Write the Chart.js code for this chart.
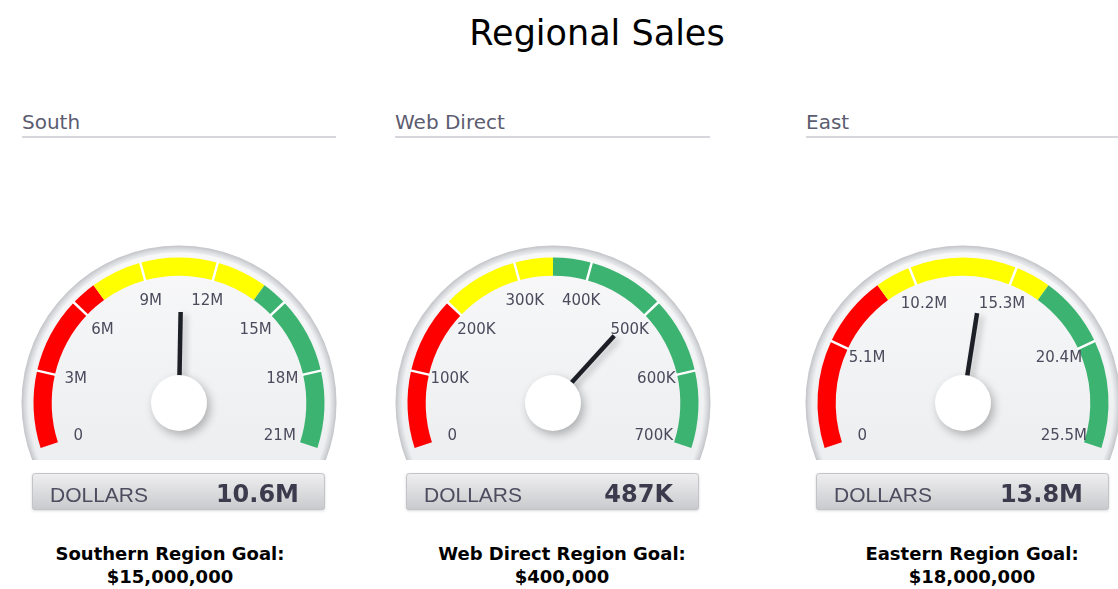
<!DOCTYPE html>
<html>
<head>
<meta charset="utf-8">
<title>Regional Sales</title>
<script src="https://cdn.jsdelivr.net/npm/chart.js@4.4.1/dist/chart.umd.min.js"></script>
<style>
    body { margin: 0; background: #fff; width: 1118px; height: 589px; position: relative; overflow: hidden; font-family: "DejaVu Sans", sans-serif; }
    .title { position: absolute; left: 0; width: 1194px; top: 16px; text-align: center; font-size: 35px; line-height: 35px; color: #000; }
    .head { position: absolute; top: 112px; font-size: 20px; line-height: 20px; color: #5c5c70; }
    .rule { position: absolute; top: 136px; height: 2px; background: #d6d7dd; }
    .goal { position: absolute; top: 542px; width: 320px; text-align: center; font-size: 18px; line-height: 23px; font-weight: bold; color: #000; }
    canvas { position: absolute; top: 230px; }
</style>
</head>
<body>
<div class="title">Regional Sales</div>
<div id="panels"></div>

<script>
// ===== DADOS =====
const regions      = ['South', 'Web Direct', 'East'];
const maxValues    = [21000000, 700000, 25500000];
const tickValues   = [
    [0, 3000000, 6000000, 9000000, 12000000, 15000000, 18000000, 21000000],
    [0, 100000, 200000, 300000, 400000, 500000, 600000, 700000],
    [0, 5100000, 10200000, 15300000, 20400000, 25500000]
];
const tickLabels   = [
    ['0', '3M', '6M', '9M', '12M', '15M', '18M', '21M'],
    ['0', '100K', '200K', '300K', '400K', '500K', '600K', '700K'],
    ['0', '5.1M', '10.2M', '15.3M', '20.4M', '25.5M']
];
const redLimits    = [7000000, 200000, 8500000];
const yellowLimits = [14000000, 350000, 17000000];
const actuals      = [10600000, 487000, 13800000];
const actualLabels = ['10.6M', '487K', '13.8M'];
const unitLabel    = 'DOLLARS';
const goalTitles   = ['Southern Region Goal:', 'Web Direct Region Goal:', 'Eastern Region Goal:'];
const goalAmounts  = ['$15,000,000', '$400,000', '$18,000,000'];

// ===== LAYOUT =====
const gaugeCenterX = [179, 553.3, 963.3];
const headerLeft   = [22, 395, 806];
const headerWidth  = [314, 315, 320];
const goalCenterX  = [170, 562, 972];
const CANVAS_W = 340, CANVAS_H = 300;

const RED = '#ff0000', YELLOW = '#ffff00', GREEN = '#3cb371';

// Faixas coloridas: cortes nos ticks e nos limites de vermelho/amarelo
function buildSegments(i) {
    const edges = [...new Set([...tickValues[i], redLimits[i], yellowLimits[i]])].sort((a, b) => a - b);
    const values = [], colors = [];
    for (let k = 1; k < edges.length; k++) {
        values.push(edges[k] - edges[k - 1]);
        const mid = (edges[k] + edges[k - 1]) / 2;
        colors.push(mid < redLimits[i] ? RED : mid < yellowLimits[i] ? YELLOW : GREEN);
    }
    return { values, colors };
}

function arcGeometry(chart) {
    const arcs = chart.getDatasetMeta(0).data;
    const first = arcs[0], last = arcs[arcs.length - 1];
    return {
        x: first.x, y: first.y,
        r: first.outerRadius, ir: first.innerRadius,
        start: first.startAngle, end: last.endAngle
    };
}

// ===== PLUGIN DO MOSTRADOR =====
const gaugePlugin = {
    id: 'gauge',
    beforeDatasetsDraw(chart) {
        const g = arcGeometry(chart);
        const ctx = chart.ctx;
        ctx.save();
        ctx.beginPath();
        ctx.rect(g.x - 200, g.y - 200, 400, 200 + 57);
        ctx.clip();
        const rim = ctx.createRadialGradient(g.x, g.y, g.r + 5, g.x, g.y, g.r + 12);
        rim.addColorStop(0, '#eeeff1');
        rim.addColorStop(0.5, '#dadbde');
        rim.addColorStop(1, '#c2c3c7');
        ctx.fillStyle = rim;
        ctx.beginPath();
        ctx.arc(g.x, g.y, g.r + 12, 0, Math.PI * 2);
        ctx.fill();
        const face = ctx.createLinearGradient(0, g.y - g.r, 0, g.y + 57);
        face.addColorStop(0, '#f8f8f9');
        face.addColorStop(1, '#eceef0');
        ctx.fillStyle = face;
        ctx.beginPath();
        ctx.arc(g.x, g.y, g.r + 5, 0, Math.PI * 2);
        ctx.fill();
        ctx.restore();
    },
    afterDatasetsDraw(chart, args, opts) {
        const g = arcGeometry(chart);
        const ctx = chart.ctx;
        const i = opts.index;
        const angleOf = v => g.start + (v / maxValues[i]) * (g.end - g.start);

        // separadores brancos nos ticks internos
        ctx.save();
        ctx.strokeStyle = '#ffffff';
        ctx.lineWidth = 2.5;
        tickValues[i].slice(1, -1).forEach(v => {
            const a = angleOf(v);
            ctx.beginPath();
            ctx.moveTo(g.x + Math.cos(a) * (g.ir - 1), g.y + Math.sin(a) * (g.ir - 1));
            ctx.lineTo(g.x + Math.cos(a) * (g.r + 1), g.y + Math.sin(a) * (g.r + 1));
            ctx.stroke();
        });

        // rótulos dos ticks
        ctx.font = '15px "DejaVu Sans"';
        ctx.fillStyle = '#4b4b5d';
        ctx.textAlign = 'center';
        ctx.textBaseline = 'middle';
        tickValues[i].forEach((v, k) => {
            const a = angleOf(v);
            ctx.fillText(tickLabels[i][k], g.x + Math.cos(a) * 106, g.y + Math.sin(a) * 106);
        });

        // ponteiro
        const na = angleOf(actuals[i]);
        ctx.shadowColor = 'rgba(0,0,0,0.22)';
        ctx.shadowBlur = 6;
        ctx.shadowOffsetX = 4;
        ctx.shadowOffsetY = 3;
        ctx.strokeStyle = '#1c1f26';
        ctx.lineWidth = 4.5;
        ctx.lineCap = 'butt';
        ctx.beginPath();
        ctx.moveTo(g.x, g.y);
        ctx.lineTo(g.x + Math.cos(na) * 91, g.y + Math.sin(na) * 91);
        ctx.stroke();

        // cubo central
        ctx.shadowColor = 'rgba(0,0,0,0.28)';
        ctx.shadowBlur = 10;
        ctx.shadowOffsetX = 3;
        ctx.shadowOffsetY = 4;
        ctx.fillStyle = '#ffffff';
        ctx.beginPath();
        ctx.arc(g.x, g.y, 28, 0, Math.PI * 2);
        ctx.fill();
        ctx.restore();

        // caixa de valor
        ctx.save();
        const bx = g.x - 147, by = g.y + 70, bw = 293, bh = 37;
        const box = ctx.createLinearGradient(0, by, 0, by + bh);
        box.addColorStop(0, '#efeff0');
        box.addColorStop(1, '#c9cacd');
        ctx.shadowColor = 'rgba(0,0,0,0.15)';
        ctx.shadowBlur = 3;
        ctx.shadowOffsetY = 1;
        ctx.fillStyle = box;
        ctx.beginPath();
        ctx.roundRect(bx, by, bw, bh, 3);
        ctx.fill();
        ctx.shadowColor = 'transparent';
        ctx.strokeStyle = '#c3c4c8';
        ctx.lineWidth = 1;
        ctx.beginPath();
        ctx.roundRect(bx + 0.5, by + 0.5, bw - 1, bh - 1, 3);
        ctx.stroke();
        ctx.textBaseline = 'alphabetic';
        ctx.textAlign = 'left';
        ctx.font = '21px "Liberation Sans"';
        ctx.fillStyle = '#4d4d60';
        ctx.fillText(unitLabel, g.x - 129, g.y + 99);
        ctx.textAlign = 'right';
        ctx.font = 'bold 24px "DejaVu Sans"';
        ctx.fillStyle = '#3b3b4d';
        ctx.fillText(actualLabels[i], g.x + 120, g.y + 99.5);
        ctx.restore();
    }
};

// ===== MONTAGEM DOS PAINÉIS =====
const panels = document.getElementById('panels');
regions.forEach((name, i) => {
    const head = document.createElement('div');
    head.className = 'head';
    head.style.left = headerLeft[i] + 'px';
    head.textContent = name;
    panels.appendChild(head);

    const rule = document.createElement('div');
    rule.className = 'rule';
    rule.style.left = headerLeft[i] + 'px';
    rule.style.width = headerWidth[i] + 'px';
    panels.appendChild(rule);

    const goal = document.createElement('div');
    goal.className = 'goal';
    goal.style.left = (goalCenterX[i] - 160) + 'px';
    goal.innerHTML = goalTitles[i] + '<br>' + goalAmounts[i];
    panels.appendChild(goal);

    const canvas = document.createElement('canvas');
    canvas.width = CANVAS_W;
    canvas.height = CANVAS_H;
    canvas.style.left = (gaugeCenterX[i] - CANVAS_W / 2) + 'px';
    panels.appendChild(canvas);

    const seg = buildSegments(i);
    new Chart(canvas, {
        type: 'doughnut',
        data: {
            labels: seg.values.map((_, k) => 'faixa ' + (k + 1)),
            datasets: [{
                data: seg.values,
                backgroundColor: seg.colors,
                borderWidth: 0,
                hoverOffset: 0
            }]
        },
        options: {
            responsive: false,
            animation: false,
            events: [],
            rotation: -108,
            circumference: 216,
            cutout: '87.5%',
            layout: { padding: { left: 24.5, right: 24.5, top: 24.73, bottom: 79.27 } },
            plugins: {
                legend: { display: false },
                tooltip: { enabled: false },
                gauge: { index: i }
            }
        },
        plugins: [gaugePlugin]
    });
});
</script>
</body>
</html>
